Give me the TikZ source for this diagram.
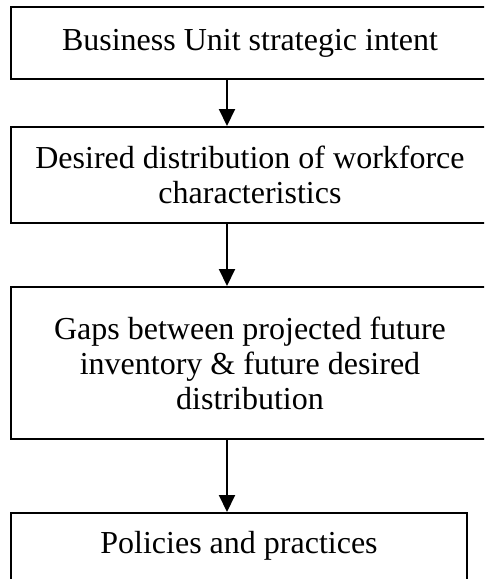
\documentclass[tikz,border=0pt]{standalone}
\usepackage{fontspec}
\setmainfont{Liberation Serif}
\usetikzlibrary{arrows.meta}
\begin{document}
\begin{tikzpicture}[x=0.5pt,y=-0.5pt,
  box/.style={draw=black, line width=1pt, rectangle, align=center, inner sep=0pt,
    font=\fontsize{16}{17.5}\selectfont},
  arr/.style={line width=1pt, -{Triangle[length=8.5pt,width=8pt]}}]
\clip (0,0) rectangle (484,579);
\fill[white] (0,0) rectangle (484,579);
\coordinate (ax) at (227,0);
\node[box, minimum width=239pt, minimum height=36pt] (b1) at (250,43)
  {Business Unit strategic intent};
\node[box, minimum width=239pt, minimum height=48pt] (b2) at (250,175)
  {Desired distribution of workforce\\characteristics};
\node[box, minimum width=239pt, minimum height=76pt] (b3) at (250,363)
  {Gaps between projected future\\inventory \& future desired\\distribution};
\node[box, minimum width=228pt, anchor=north, text height=20pt, text depth=30pt] (b4) at (239,512)
  {Policies and practices};
\draw[arr] (b1.south -| ax) -- (b2.north -| ax);
\draw[arr] (b2.south -| ax) -- (b3.north -| ax);
\draw[arr] (b3.south -| ax) -- (b4.north -| ax);
\end{tikzpicture}
\end{document}
